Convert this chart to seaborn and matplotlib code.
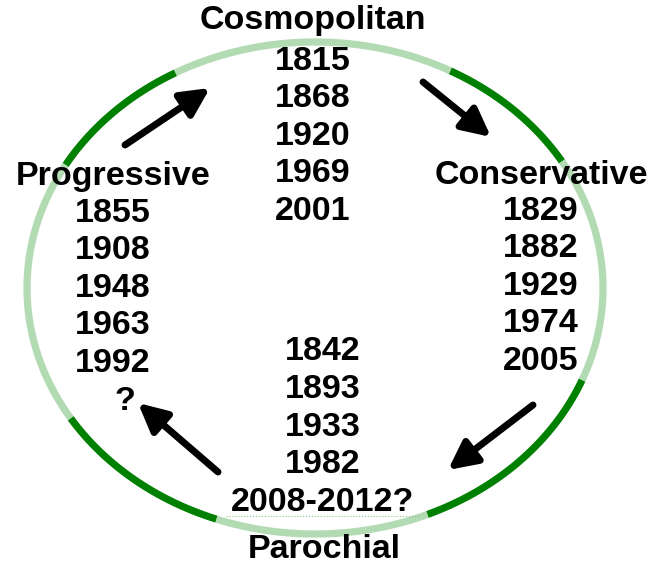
import numpy as np
import matplotlib.pyplot as plt
import seaborn as sns

# cycle phases and their turning-point years
phases = ["Cosmopolitan", "Conservative", "Parochial", "Progressive"]
cosmopolitan_years = ["1815", "1868", "1920", "1969", "2001"]
conservative_years = ["1829", "1882", "1929", "1974", "2005"]
parochial_years = ["1842", "1893", "1933", "1982", "2008-2012?"]
progressive_years = ["1855", "1908", "1948", "1963", "1992", "?"]

# ring segments (parametric angle in degrees, shade)
seg_start = [-22, 31, 62, 119, 150, 212, 250, 293]
seg_end = [31, 62, 119, 150, 212, 250, 293, 338]
seg_dark = [False, True, False, True, False, True, False, True]

sns.set_theme(style="white")
plt.rcParams["font.family"] = ["Liberation Sans", "DejaVu Sans"]

fig = plt.figure(figsize=(6.6, 5.64), dpi=100)
ax = fig.add_axes([0, 0, 1, 1])
ax.set_xlim(0, 660)
ax.set_ylim(564, 0)
ax.axis("off")

cx, cy, rx, ry = 315, 288, 288, 246
for a0, a1, dark in zip(seg_start, seg_end, seg_dark):
    t = np.radians(np.linspace(a0, a1, 80))
    ax.plot(cx + rx * np.cos(t), cy - ry * np.sin(t),
            color="#008000" if dark else "#b3dbb3", lw=5.2,
            solid_capstyle="butt", zorder=1)

fs = 24.5
txt = dict(fontsize=fs, fontweight="bold", ha="center", va="center",
           color="black", zorder=3)
step = 37.6

ax.text(313, 20, phases[0], **txt)
for i, y in enumerate(cosmopolitan_years):
    ax.text(313, 61 + i * step, y, **txt)

ax.text(541, 175, phases[1], **txt)
for i, y in enumerate(conservative_years):
    ax.text(541, 211 + i * step, y, **txt)

for i, y in enumerate(parochial_years):
    ax.text(323, 352 + i * step, y, **txt)
ax.text(324, 550, phases[2], **txt)

ax.text(113, 176, phases[3], **txt)
for i, y in enumerate(progressive_years):
    x = 125 if y == "?" else 113
    ax.text(x, 213 + i * step, y, **txt)

# spell-check squiggle under the last parochial entry
ax.plot([226, 420], [516, 516], color="#8fc88f", lw=0.8, ls=":", zorder=2)

# arrows showing the direction of the cycle
arrows = [((125, 145), (210, 88)), ((423, 82), (491, 137)),
          ((533, 405), (448, 470)), ((218, 472), (138, 403))]
for start, end in arrows:
    ax.annotate("", xy=end, xytext=start,
                arrowprops=dict(arrowstyle="-|>,head_length=0.9,head_width=0.45",
                                color="black", lw=5, mutation_scale=19,
                                shrinkA=0, shrinkB=0))

fig.savefig("out.png", dpi=100)
